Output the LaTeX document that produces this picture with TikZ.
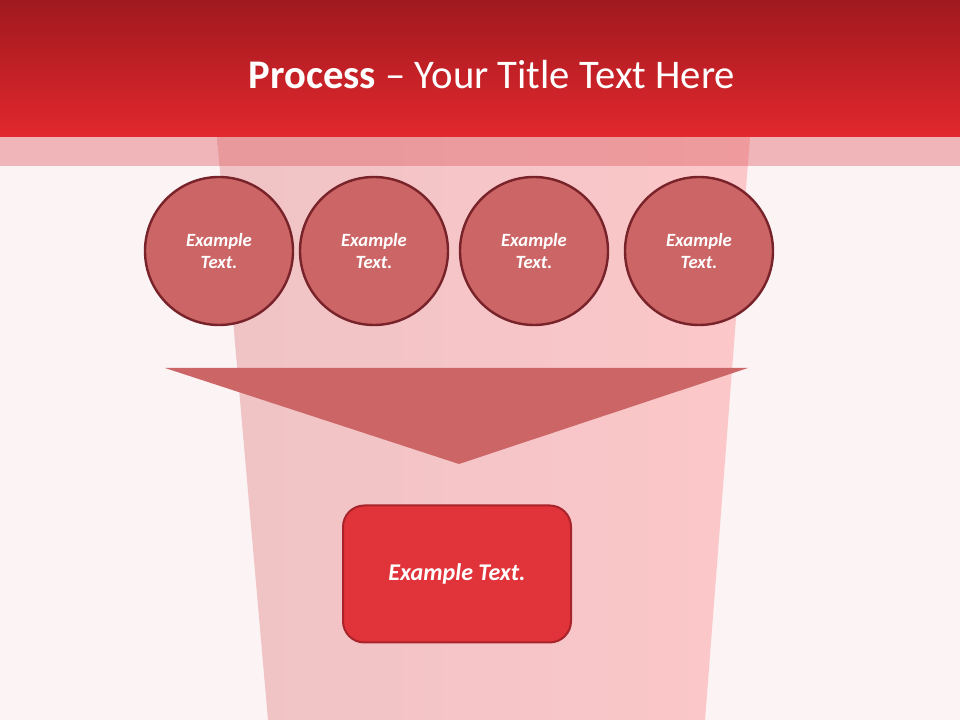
\documentclass[tikz,border=0pt]{standalone}
\usepackage{fontspec}
\setmainfont{Carlito}
\definecolor{PaleBg}{HTML}{FCF3F4}
\definecolor{BandTop}{HTML}{A0191E}
\definecolor{BandBot}{HTML}{E2282E}
\definecolor{StripRed}{HTML}{DC5A5E}
\definecolor{BeamLeft}{HTML}{EFC3C5}
\definecolor{BeamRight}{HTML}{FCC7C9}
\definecolor{Bubble}{HTML}{CC6565}
\definecolor{BubbleLine}{HTML}{78222A}
\definecolor{BoxRed}{HTML}{E1333A}
\definecolor{BoxLine}{HTML}{A8232A}

\tikzset{
  bubble/.style={circle,fill=Bubble,draw=BubbleLine,line width=1.8pt,minimum size=148*0.75pt,
    text=white,align=center,font=\fontsize{14}{17}\selectfont\bfseries\itshape},
  result/.style={rectangle,rounded corners=16pt,fill=BoxRed,draw=BoxLine,line width=1.5pt,
    minimum width=228*0.75pt,minimum height=137*0.75pt,text=white,
    font=\fontsize{18}{21}\selectfont\bfseries\itshape}
}

\begin{document}
\begin{tikzpicture}[x=0.75pt,y=0.75pt]
\useasboundingbox (0,0) rectangle (960,720);
\fill[PaleBg] (0,0) rectangle (960,720);
% light beam behind everything
\shade[left color=BeamLeft,right color=BeamRight] (217,583) -- (750,583) -- (705,0) -- (268,0) -- cycle;
\fill[StripRed,opacity=.4] (0,554) rectangle (960,583);
% title band
\shade[top color=BandTop,bottom color=BandBot] (0,583) rectangle (960,720);
\node[text=white,font=\fontsize{30.5}{36}\selectfont] (title) at (492,645) {\textbf{Process} -- Your Title Text Here};
% four inputs
\foreach \x [count=\i] in {219,374,534,699}
  \node[bubble] (c\i) at (\x,469) {Example\\Text.};
% funnel
\fill[Bubble] (165,352) -- (748,352) -- (459,256) -- cycle;
\node[result] (res) at (457,146) {Example Text.};
\end{tikzpicture}
\end{document}
